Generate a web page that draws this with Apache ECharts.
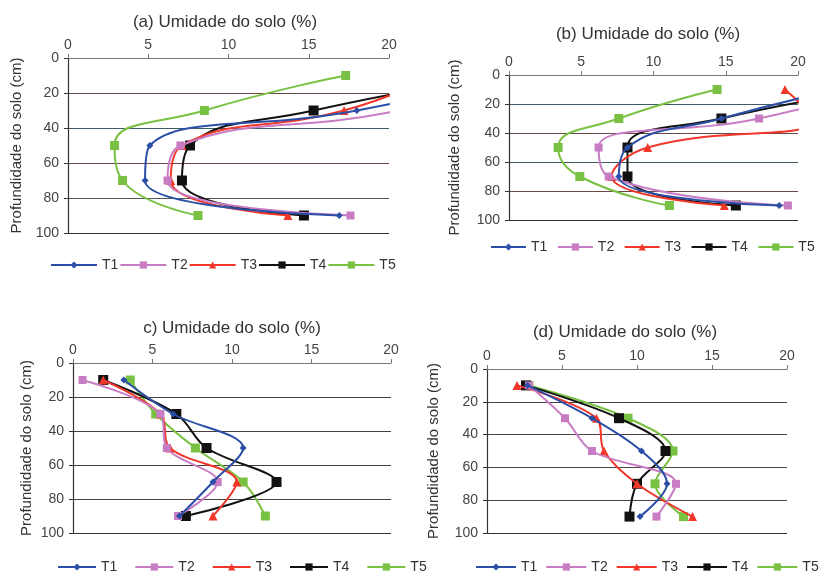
<!DOCTYPE html>
<html>
<head>
<meta charset="utf-8">
<script src="https://cdn.jsdelivr.net/npm/echarts@6/dist/echarts.min.js"></script>
<style>
  html, body { margin: 0; padding: 0; background: #fff; }
  #chart { width: 827px; height: 573px; }
</style>
</head>
<body>
<div id="chart"></div>
<script>
// profundidades (cm) e tratamentos
const depths = [10, 30, 50, 70, 90]
const treatments = ['T1', 'T2', 'T3', 'T4', 'T5']
const xTicks = [0, 5, 10, 15, 20]
const yTicks = [0, 20, 40, 60, 80, 100]

// umidade do solo (%) por painel, linhas = T1..T5, colunas = profundidades
// valores acima de 20 saem do gráfico (cortados como no original)
const panelA = [
  [28, 18.0, 5.1, 4.8, 16.9],
  [28, 20.6, 7.0, 6.2, 17.6],
  [23, 17.2, 7.1, 6.4, 13.7],
  [27, 15.3, 7.6, 7.1, 14.7],
  [17.3, 8.5, 2.9, 3.4, 8.1]
]
const panelB = [
  [22.7, 14.7, 8.2, 7.6, 18.7],
  [25, 17.3, 6.2, 6.9, 19.3],
  [19.1, 21, 9.6, 7.1, 14.9],
  [25.3, 14.7, 8.2, 8.2, 15.7],
  [14.4, 7.6, 3.4, 4.9, 11.1]
]
const panelC = [
  [3.2, 6.3, 10.7, 8.8, 6.7],
  [0.6, 5.5, 5.9, 9.1, 6.6],
  [1.9, 5.5, 6.1, 10.3, 8.8],
  [1.9, 6.5, 8.4, 12.8, 7.1],
  [3.6, 5.2, 7.7, 10.7, 12.1]
]
const panelD = [
  [2.7, 7.0, 10.3, 12.0, 10.2],
  [2.8, 5.2, 7.0, 12.6, 11.3],
  [2.0, 7.3, 7.8, 10.0, 13.7],
  [2.6, 8.8, 11.9, 10.0, 9.5],
  [2.8, 9.4, 12.4, 11.2, 13.1]
]
const panelTitles = [
  '(a) Umidade do solo (%)',
  '(b) Umidade do solo (%)',
  'c) Umidade do solo (%)',
  '(d) Umidade do solo (%)'
]

// estilo de cada tratamento
const colors = ['#2b4ea6', '#c77cc4', '#f0372a', '#111111', '#79c142']
const symbols = ['diamond', 'rect', 'triangle', 'rect', 'rect']
const symbolSizes = [7, 8, 9, 10, 9]

const brown = '#6a4944'
const teal = '#3d5c68'
const grey = '#555'

// posição de cada painel (px)
const panels = [
  { data: panelA, grid: { left: 68, top: 58, width: 321, height: 175 },
    title: [220, 9], yName: 15, smooth: 0.5,
    legend: { left: 45, top: 253, itemWidth: 46, itemGap: 1 },
    lines: ['#777', brown, teal, brown, grey, '#333'] },
  { data: panelB, grid: { left: 509, top: 75, width: 289, height: 145 },
    title: [643, 21], yName: 453, smooth: 0.5,
    legend: { left: 485, top: 235, itemWidth: 35, itemGap: 9.5 },
    lines: ['#777', teal, brown, teal, brown, '#333'] },
  { data: panelC, grid: { left: 73, top: 363, width: 318, height: 170 },
    title: [227, 315], yName: 25, smooth: 0.35,
    legend: { left: 52, top: 555, itemWidth: 38, itemGap: 17 },
    lines: ['#777', '#4a3f3d', '#4a3f3d', '#4a3f3d', '#4a3f3d', '#333'] },
  { data: panelD, grid: { left: 487, top: 369, width: 300, height: 164 },
    title: [620, 319], yName: 432, smooth: 0.35,
    legend: { left: 470, top: 555, itemWidth: 40, itemGap: 8 },
    lines: ['#777', '#4a4444', '#4a4444', '#4a4444', '#4a4444', '#333'] }
]

const fontFamily = 'Liberation Sans, Arial, sans-serif'

const getChartOption = () => {
  const grid = []
  const xAxis = []
  const yAxis = []
  const title = []
  const legend = []
  const series = []

  panels.forEach((p, i) => {
    grid.push(p.grid)
    title.push({
      text: panelTitles[i],
      left: p.title[0],
      top: p.title[1],
      textAlign: 'center',
      textStyle: { fontFamily, fontSize: 17, fontWeight: 'normal', color: '#333' }
    })
    xAxis.push({
      gridIndex: i,
      type: 'value',
      position: 'top',
      min: xTicks[0],
      max: xTicks[xTicks.length - 1],
      interval: xTicks[1] - xTicks[0],
      axisLine: { show: true, lineStyle: { color: '#777' } },
      axisTick: { show: true, length: 4, lineStyle: { color: '#777' } },
      axisLabel: { fontFamily, fontSize: 14, color: '#444', margin: 6 },
      splitLine: { show: false }
    })
    yAxis.push({
      gridIndex: i,
      type: 'value',
      inverse: true,
      min: yTicks[0],
      max: yTicks[yTicks.length - 1],
      interval: yTicks[1] - yTicks[0],
      name: 'Profundidade do solo (cm)',
      nameLocation: 'middle',
      nameGap: p.grid.left - p.yName - 9,
      nameTextStyle: { fontFamily, fontSize: 15, color: '#333' },
      axisLine: { show: true, lineStyle: { color: '#333', width: 1.2 } },
      axisTick: { show: true, length: 4, lineStyle: { color: '#333' } },
      axisLabel: { fontFamily, fontSize: 14, color: '#444', margin: 9 },
      splitLine: { show: true, lineStyle: { color: p.lines, width: 1.2 } }
    })
    legend.push({
      left: p.legend.left,
      top: p.legend.top,
      width: 400,
      orient: 'horizontal',
      data: treatments,
      itemWidth: p.legend.itemWidth,
      itemHeight: 9,
      itemGap: p.legend.itemGap,
      textStyle: { fontFamily, fontSize: 14, color: '#333' }
    })
    p.data.forEach((vals, k) => {
      series.push({
        name: treatments[k],
        type: 'line',
        xAxisIndex: i,
        yAxisIndex: i,
        data: vals.map((v, j) => [v, depths[j]]),
        smooth: p.smooth,
        clip: true,
        symbol: symbols[k],
        symbolSize: symbolSizes[k],
        showAllSymbol: true,
        itemStyle: { color: colors[k] },
        lineStyle: { color: colors[k], width: 2 },
        z: 10 - k
      })
    })
  })

  return {
    animation: false,
    backgroundColor: '#fff',
    title,
    grid,
    xAxis,
    yAxis,
    legend,
    series
  }
}

const chartInstance = echarts.init(document.getElementById('chart'))
chartInstance.setOption(getChartOption())
</script>
</body>
</html>
